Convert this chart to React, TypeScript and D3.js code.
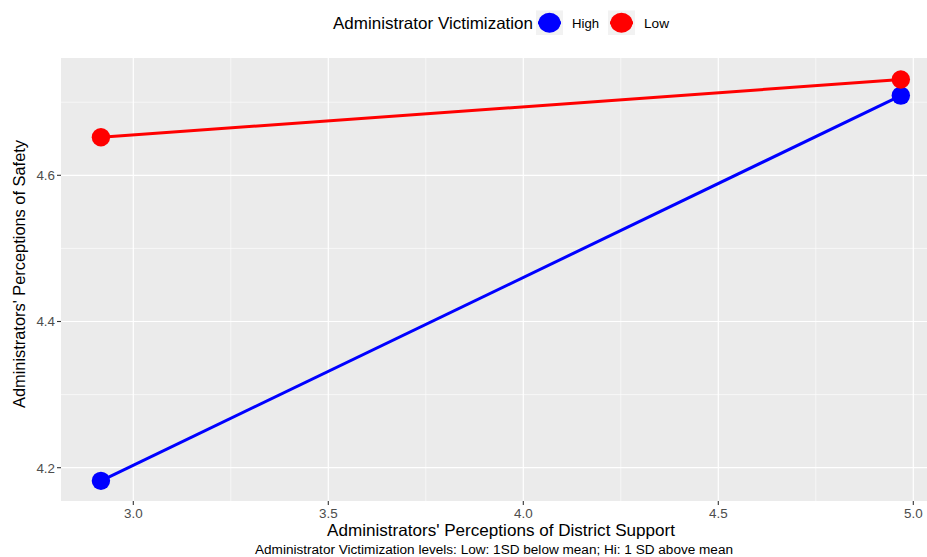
import React from "react";
import * as d3 from "d3";

const groups = ["High", "Low"];
const colors = ["#0000FF", "#FF0000"];
const xValues = [2.917, 4.968];
const highValues = [4.182, 4.709];
const lowValues = [4.652, 4.731];
const xTicks = [3.0, 3.5, 4.0, 4.5, 5.0];
const xMinor = [2.75, 3.25, 3.75, 4.25, 4.75];
const yTicks = [4.2, 4.4, 4.6];
const yMinor = [4.3, 4.5, 4.7];

export default function App() {
  const W = 927, H = 557;
  const left = 61, top = 58, bottom = 501;
  const x = d3.scaleLinear().domain([3.0, 5.0]).range([133.3, 913.3]);
  const y = d3.scaleLinear().domain([4.2, 4.6]).range([467.7, 175.3]);
  const right = W;
  const series = [highValues, lowValues];
  const line = d3.line<number>().x((_, i) => x(xValues[i])).y((d) => y(d));
  const font = "Liberation Sans, Arial, sans-serif";
  const legendX = [536, 608];
  return (
    <svg width={W} height={H} style={{ position: "absolute", left: 0, top: 0 }} fontFamily={font}>
      <rect x={0} y={0} width={W} height={H} fill="#fff" />
      <rect x={left} y={top} width={right - left} height={bottom - top} fill="#EBEBEB" />
      {xMinor.map((t) => (
        <line key={"xm" + t} x1={x(t)} x2={x(t)} y1={top} y2={bottom} stroke="#fff" strokeWidth={0.6} />
      ))}
      {yMinor.map((t) => (
        <line key={"ym" + t} x1={left} x2={right} y1={y(t)} y2={y(t)} stroke="#fff" strokeWidth={0.6} />
      ))}
      {xTicks.map((t) => (
        <line key={"x" + t} x1={x(t)} x2={x(t)} y1={top} y2={bottom} stroke="#fff" strokeWidth={1.2} />
      ))}
      {yTicks.map((t) => (
        <line key={"y" + t} x1={left} x2={right} y1={y(t)} y2={y(t)} stroke="#fff" strokeWidth={1.2} />
      ))}
      {series.map((s, k) => (
        <g key={groups[k]}>
          <path d={line(s) || ""} fill="none" stroke={colors[k]} strokeWidth={3} />
          {s.map((v, i) => (
            <circle key={i} cx={x(xValues[i])} cy={y(v)} r={9.2} fill={colors[k]} />
          ))}
        </g>
      ))}
      {xTicks.map((t) => (
        <g key={"xt" + t}>
          <line x1={x(t)} x2={x(t)} y1={bottom} y2={bottom + 4} stroke="#333" strokeWidth={1.1} />
          <text x={x(t)} y={bottom + 17} textAnchor="middle" fontSize={13.4} fill="#4D4D4D">
            {t.toFixed(1)}
          </text>
        </g>
      ))}
      {yTicks.map((t) => (
        <g key={"yt" + t}>
          <line x1={left - 4} x2={left} y1={y(t)} y2={y(t)} stroke="#333" strokeWidth={1.1} />
          <text x={left - 6} y={y(t) + 4.8} textAnchor="end" fontSize={13.4} fill="#4D4D4D">
            {t.toFixed(1)}
          </text>
        </g>
      ))}
      <text x={327} y={536} fontSize={16.5} fill="#000" textLength={348} lengthAdjust="spacingAndGlyphs">
        Administrators' Perceptions of District Support
      </text>
      <text x={255} y={554} fontSize={12.5} fill="#000" textLength={478} lengthAdjust="spacingAndGlyphs">
        Administrator Victimization levels: Low: 1SD below mean; Hi: 1 SD above mean
      </text>
      <text transform={`translate(25,274) rotate(-90)`} x={-134} fontSize={16.5} fill="#000" textLength={268} lengthAdjust="spacingAndGlyphs">
        Administrators' Perceptions of Safety
      </text>
      <text x={333} y={28.5} fontSize={16.5} fill="#000" textLength={200} lengthAdjust="spacingAndGlyphs">
        Administrator Victimization
      </text>
      {groups.map((g, k) => {
        const kx = legendX[k];
        return (
          <g key={"lg" + g}>
            <rect x={kx} y={10.5} width={27} height={24.5} fill="#F2F2F2" />
            <line x1={kx + 2} x2={kx + 25} y1={22.8} y2={22.8} stroke={colors[k]} strokeWidth={3} />
            <ellipse cx={kx + 13.5} cy={22.8} rx={11} ry={10} fill={colors[k]} />
            <text x={kx + 36} y={28} fontSize={13.5} fill="#000" textLength={g === "High" ? 27 : 25} lengthAdjust="spacingAndGlyphs">
              {g}
            </text>
          </g>
        );
      })}
    </svg>
  );
}
